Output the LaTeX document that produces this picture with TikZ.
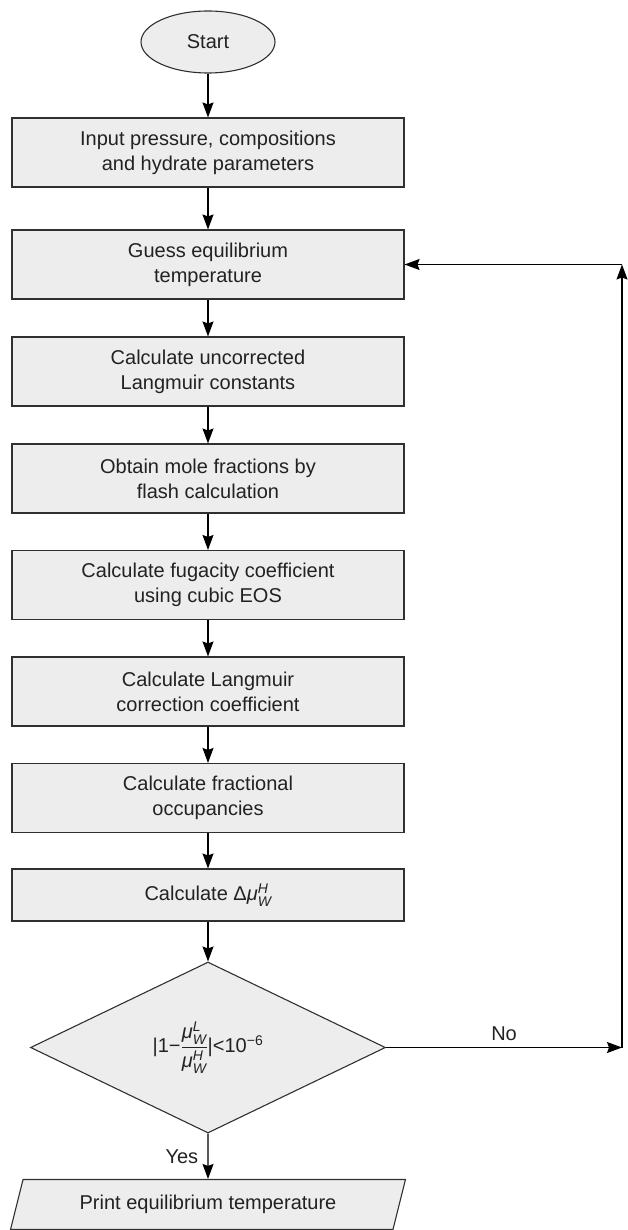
\documentclass[tikz,border=0pt]{standalone}
\usepackage{amsmath}
\usepackage{fontspec}
\setmainfont{Liberation Sans}
\usetikzlibrary{shapes.geometric,arrows.meta}
\definecolor{boxfill}{HTML}{ECEDEC}
\definecolor{boxline}{HTML}{303030}
\definecolor{textgray}{HTML}{222222}
\newcommand{\muw}[1]{\textit{μ}$_{\textit{W}}^{\textit{#1}}$}
\tikzset{
  stepbox/.style={draw=boxline, fill=boxfill, line width=1.1pt, minimum width=392pt,
    minimum height=69pt, align=center, inner sep=0pt, text=textgray},
  startnode/.style={draw=boxline, fill=boxfill, line width=1.1pt, ellipse,
    minimum width=134pt, minimum height=62pt, inner sep=0pt, text=textgray},
  checknode/.style={draw=boxline, fill=boxfill, line width=1.1pt, diamond,
    minimum width=355pt, minimum height=171pt, inner sep=0pt, text=textgray},
  outnode/.style={draw=boxline, fill=boxfill, line width=1.1pt, trapezium,
    trapezium left angle=65, trapezium right angle=115, trapezium stretches=true,
    minimum width=395pt, minimum height=50pt, inner sep=0pt, text=textgray},
  flow/.style={draw=black, line width=1.1pt, -{Stealth[length=15pt,width=11pt,inset=2pt]}},
}
\begin{document}
\begin{tikzpicture}[x=1pt, y=-1pt, font=\fontsize{20}{25}\selectfont]
  \useasboundingbox (0,0) rectangle (627,1230);
  \node[startnode] (start) at (208,42) {Start};
  \node[stepbox] (input) at (208,152.5) {Input pressure, compositions\\and hydrate parameters};
  \node[stepbox] (guess) at (208,264.5) {Guess equilibrium\\temperature};
  \node[stepbox] (uncorr) at (208,371.5) {Calculate uncorrected\\Langmuir constants};
  \node[stepbox] (mole) at (208,478.5) {Obtain mole fractions by\\flash calculation};
  \node[stepbox] (fug) at (208,585) {Calculate fugacity coefficient\\using cubic EOS};
  \node[stepbox] (corr) at (208,691.5) {Calculate Langmuir\\correction coefficient};
  \node[stepbox] (frac) at (208,798) {Calculate fractional\\occupancies};
  \node[stepbox, minimum height=52pt] (dmu) at (208,895) {Calculate Δ\muw{H}};
  \node[checknode] (check) at (208,1047.5)
    {|1−$\dfrac{\hbox{\muw{L}}}{\hbox{\muw{H}}}$|<10\textsuperscript{−6}};
  \node[outnode] (out) at (208,1204.5) {Print equilibrium temperature};
  \coordinate (loopa) at (622,1047.5);
  \coordinate (loopb) at (622,264.5);

  \draw[flow] (start) -- (input);
  \draw[flow] (input) -- (guess);
  \draw[flow] (guess) -- (uncorr);
  \draw[flow] (uncorr) -- (mole);
  \draw[flow] (mole) -- (fug);
  \draw[flow] (fug) -- (corr);
  \draw[flow] (corr) -- (frac);
  \draw[flow] (frac) -- (dmu);
  \draw[flow] (dmu.south) -- (check.north);
  \draw[flow] (check.south) -- node[left=6pt, text=textgray] (yes) {Yes} (out.north);
  \draw[flow] (check.east) -- node[above=3pt, text=textgray] (no) {No} (loopa);
  \draw[flow] (loopa) -- (loopb);
  \draw[flow] (loopb) -- (guess.east);
\end{tikzpicture}
\end{document}
